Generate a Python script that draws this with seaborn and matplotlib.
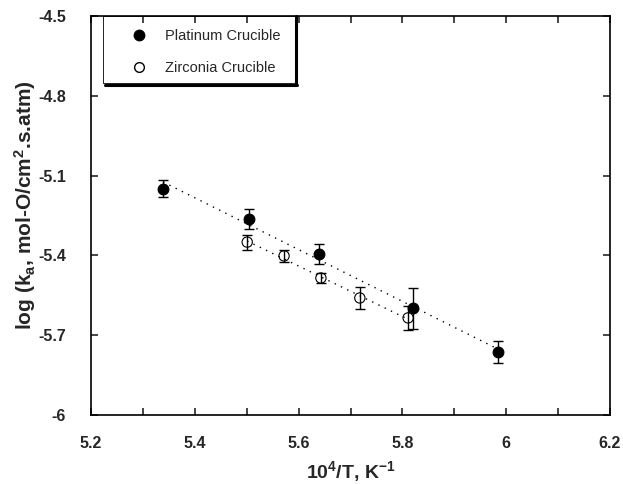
import numpy as np
import pandas as pd
import matplotlib
matplotlib.use("Agg")
import matplotlib.pyplot as plt
import seaborn as sns
from matplotlib.lines import Line2D
from matplotlib.patches import Rectangle

# Data
pt_x = [5.339, 5.504, 5.639, 5.820, 5.984]
pt_y = [-5.150, -5.263, -5.395, -5.598, -5.763]
pt_err = [0.032, 0.038, 0.036, 0.077, 0.040]

zr_x = [5.501, 5.572, 5.643, 5.718, 5.811]
zr_y = [-5.350, -5.402, -5.485, -5.560, -5.635]
zr_err = [0.028, 0.022, 0.020, 0.041, 0.045]

x_ticks = [5.2, 5.4, 5.6, 5.8, 6.0, 6.2]
x_ticklabels = ["5.2", "5.4", "5.6", "5.8", "6", "6.2"]
y_ticks = [-6.0, -5.7, -5.4, -5.1, -4.8, -4.5]
y_ticklabels = ["-6", "-5.7", "-5.4", "-5.1", "-4.8", "-4.5"]
series_names = ["Platinum Crucible", "Zirconia Crucible"]

sns.set_style("ticks")
plt.rcParams["font.family"] = ["Liberation Sans", "DejaVu Sans"]
plt.rcParams["mathtext.fontset"] = "custom"
plt.rcParams["mathtext.rm"] = "Liberation Sans:bold"
plt.rcParams["mathtext.it"] = "Liberation Sans:bold"
plt.rcParams["mathtext.bf"] = "Liberation Sans:bold"
plt.rcParams["mathtext.default"] = "rm"

df_pt = pd.DataFrame({"x": pt_x, "y": pt_y})
df_zr = pd.DataFrame({"x": zr_x, "y": zr_y})

fig = plt.figure(figsize=(6.23, 4.84), dpi=100)
ax = fig.add_axes([91 / 623, 1 - 415 / 484, 519 / 623, 399 / 484])

line_kws = dict(color="black", lw=1.0, linestyle=(0, (1, 4)))
sns.regplot(data=df_pt, x="x", y="y", ax=ax, scatter=False, ci=None,
            truncate=True, line_kws=line_kws)
sns.regplot(data=df_zr, x="x", y="y", ax=ax, scatter=False, ci=None,
            truncate=True, line_kws=line_kws)

ax.errorbar(pt_x, pt_y, yerr=pt_err, fmt="none", ecolor="black",
            elinewidth=1.0, capsize=3.5, capthick=1.0, zorder=3)
ax.errorbar(zr_x, zr_y, yerr=zr_err, fmt="none", ecolor="black",
            elinewidth=1.0, capsize=3.5, capthick=1.0, zorder=3)
sns.scatterplot(data=df_pt, x="x", y="y", ax=ax, marker="o", s=60,
                color="black", edgecolor="black", linewidth=0.8, zorder=4)
sns.scatterplot(data=df_zr, x="x", y="y", ax=ax, marker="o", s=55,
                facecolor="none", edgecolor="black", linewidth=0.8, zorder=4)

ax.set_xlim(5.2, 6.2)
ax.set_ylim(-6.0, -4.5)
minor_x = np.round(np.arange(5.2, 6.21, 0.1), 2)
ax.set_xticks(minor_x)
ax.set_xticklabels([x_ticklabels[x_ticks.index(t)] if t in x_ticks else ""
                    for t in minor_x])
ax.set_yticks(y_ticks)
ax.set_yticklabels(y_ticklabels)
ax.tick_params(direction="in", length=5, width=1.2, top=True, right=True,
               labelsize=11.5)
ax.tick_params(axis="x", pad=15)
ax.tick_params(axis="y", pad=18)
for lab in ax.get_xticklabels() + ax.get_yticklabels():
    lab.set_fontweight("bold")
for sp in ax.spines.values():
    sp.set_linewidth(1.2)
    sp.set_color("black")

ax.set_xlabel(r"10$^4$/T, K$^{-1}$", fontsize=14, fontweight="bold", labelpad=6)
ax.set_ylabel(r"log (k$_a$, mol-O/cm$^2$.s.atm)", fontsize=15,
              fontweight="bold")
ax.yaxis.set_label_coords(-0.103, 0.526)

# Legend box (thin left edge, heavy right/bottom edges)
bx0, by0, bw, bh = 0.0231, 0.832, 0.370, 0.168
ax.add_patch(Rectangle((bx0, by0), bw, bh, transform=ax.transAxes,
                       facecolor="none", edgecolor="black", lw=0.6,
                       zorder=5, clip_on=False))
ax.add_line(Line2D([bx0 + bw + 0.002, bx0 + bw + 0.002], [by0 - 0.004, 1.0],
                   transform=ax.transAxes, color="black", lw=2.2, zorder=6,
                   clip_on=False))
ax.add_line(Line2D([bx0 + 0.004, bx0 + bw + 0.004], [by0 - 0.004, by0 - 0.004],
                   transform=ax.transAxes, color="black", lw=2.2, zorder=6,
                   clip_on=False))

handles = [
    Line2D([], [], marker="o", color="black", markerfacecolor="black",
           linestyle="none", markersize=7.5),
    Line2D([], [], marker="o", color="black", markerfacecolor="none",
           linestyle="none", markersize=7),
]
leg = ax.legend(handles, series_names, loc="upper left",
                bbox_to_anchor=(0.0644, 0.967), fontsize=10.5, frameon=False,
                borderpad=0, labelspacing=1.2, handlelength=2.0,
                handletextpad=0.8, borderaxespad=0)
leg.set_zorder(7)

fig.savefig("out.png", dpi=100)
